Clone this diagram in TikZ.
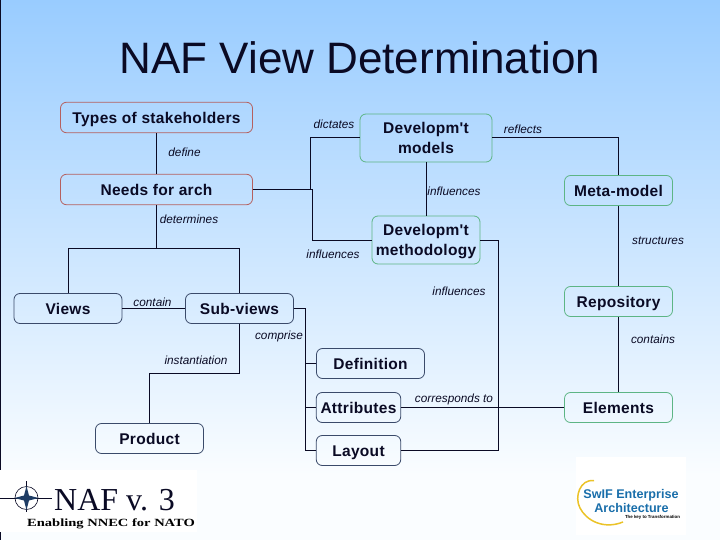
\documentclass[tikz,border=0pt]{standalone}
\usepackage{fontspec}
\setmainfont{Liberation Sans}
\newfontfamily\boxfont[LetterSpace=2]{Liberation Sans}
\newfontfamily\logofont{Liberation Serif}
\newfontfamily\logowide[FakeStretch=1.32]{Liberation Serif}
\usetikzlibrary{positioning}
\definecolor{inkdark}{HTML}{0A0A24}
\definecolor{redline}{HTML}{B5605F}
\definecolor{greenline}{HTML}{5DB585}
\definecolor{darkline}{HTML}{3A4A6A}
\definecolor{skytop}{HTML}{99CCFF}
\definecolor{skybot}{HTML}{FAFDFF}
\definecolor{nafblue}{HTML}{1E3C64}
\definecolor{swifblue}{HTML}{196EAA}
\definecolor{swifgold}{HTML}{EBC328}
\tikzset{
  boxbase/.style={draw,rounded corners=6pt,line width=0.8pt,inner sep=0pt,align=center,
    text=inkdark,font=\boxfont\fontsize{15.5}{20}\selectfont\bfseries},
  oneline/.style={text height=13pt,text depth=1.5pt},
  boxred/.style={boxbase,oneline,draw=redline},
  boxgreen/.style={boxbase,draw=greenline},
  boxdark/.style={boxbase,oneline,draw=darkline},
  wire/.style={draw=inkdark,line width=1pt},
  lbl/.style={inner sep=0pt,text=inkdark,font=\fontsize{11.8}{13}\selectfont\itshape}
}
\begin{document}
\begin{tikzpicture}[x=1pt,y=-1pt]
  % page and background
  \useasboundingbox (0,0) rectangle (720,540);
  \shade[top color=skytop,bottom color=skybot] (0,0) rectangle (720,475);
  \fill[skybot] (0,475) rectangle (720,540);
  \draw[inkdark,line width=1.2pt] (0.4,0) -- (0.4,540);
  % title
  \node[inner sep=0pt,anchor=base,text=inkdark,font=\fontsize{44}{48}\selectfont] (title) at (360,74) {NAF View Determination};
  % left column
  \node[boxred,minimum width=192pt,minimum height=30.5pt] (types) at (156.5,117.5) {Types of stakeholders};
  \node[boxred,minimum width=192pt,minimum height=30.5pt] (needs) at (156.5,189.5) {Needs for arch};
  \node[boxdark,minimum width=108pt,minimum height=30pt] (views) at (68,308.5) {Views};
  \node[boxdark,minimum width=108pt,minimum height=30pt] (subviews) at (239.5,308.5) {Sub-views};
  \node[boxdark,minimum width=108pt,minimum height=30pt] (product) at (149.5,438.5) {Product};
  % middle column
  \node[boxgreen,minimum width=132pt,minimum height=48pt] (models) at (426,138) {Developm'{}t\\models};
  \node[boxgreen,minimum width=108pt,minimum height=48pt] (method) at (426,240) {\rule{0pt}{15pt}Developm'{}t\\methodology};
  \node[boxdark,minimum width=108pt,minimum height=30pt] (definition) at (370.5,363.5) {Definition};
  \node[boxdark,minimum width=84.5pt,minimum height=30pt] (attributes) at (358.5,407.5) {Attributes};
  \node[boxdark,minimum width=84.5pt,minimum height=30pt] (layout) at (358.5,450.5) {Layout};
  % right column
  \node[boxgreen,oneline,minimum width=108pt,minimum height=30pt] (meta) at (618.5,190.5) {Meta-model};
  \node[boxgreen,oneline,minimum width=108pt,minimum height=30pt] (repo) at (618.5,301.5) {Repository};
  \node[boxgreen,oneline,minimum width=108pt,minimum height=30pt] (elements) at (618.5,407.5) {Elements};
  % junctions
  \coordinate (needsA) at (310.5,189.5);
  \coordinate (needsB) at (312.5,189.5);
  \coordinate (splitA) at (156.5,248.5);
  \coordinate (subA) at (239.5,373.5);
  \coordinate (rakeA) at (305.5,308.5);
  \coordinate (rakeB) at (305.5,450.5);
  \coordinate (methodA) at (498.5,240);
  \coordinate (methodB) at (498.5,450.5);
  % connectors
  \draw[wire] (types) -- (needs);
  \draw[wire] (needs.east) -- (needsB);
  \draw[wire] (needsA) |- (models.west);
  \draw[wire] (needsB) |- (method.west);
  \draw[wire] (models) -- (method);
  \draw[wire] (needs) -- (splitA);
  \draw[wire] (views.north) |- (splitA) -| (subviews.north);
  \draw[wire] (views) -- (subviews);
  \draw[wire] (subviews.south) |- (subA) -| (product.north);
  \draw[wire] (subviews.east) -- (rakeA) -- (rakeB) -- (layout.west);
  \draw[wire] (rakeA |- definition.west) -- (definition.west);
  \draw[wire] (rakeA |- attributes.west) -- (attributes.west);
  \draw[wire] (method.east) -- (methodA) -- (methodB) -- (layout.east);
  \draw[wire] (attributes) -- (elements);
  \draw[wire] (models.east) -| (meta.north);
  \draw[wire] (meta) -- (repo);
  \draw[wire] (repo) -- (elements);
  % labels
  \node[lbl] (lbldictates) at (334,124) {dictates};
  \node[lbl] (lbldefine) at (184.5,152) {define};
  \node[lbl] (lbldetermines) at (189,219.5) {determines};
  \node[lbl] (lblinfA) at (333,254) {influences};
  \node[lbl] (lblinfB) at (454,191) {influences};
  \node[lbl] (lblinfC) at (459,291) {influences};
  \node[lbl] (lblreflects) at (523,129) {reflects};
  \node[lbl] (lblstructures) at (658,241) {structures};
  \node[lbl] (lblcontain) at (152.5,302) {contain};
  \node[lbl] (lblcomprise) at (279,336.5) {comprise};
  \node[lbl] (lblcontains) at (653,339.5) {contains};
  \node[lbl] (lblinst) at (196,360) {instantiation};
  \node[lbl] (lblcorr) at (454,399) {corresponds to};
  % left logo
  \fill[white] (0,470) rectangle (197,532);
  \draw[inkdark,line width=0.5pt] (0,498) -- (52,498);
  \draw[inkdark,line width=0.5pt] (26.5,481) -- (26.5,512);
  \draw[inkdark,line width=0.6pt] (26.5,498) circle (11.5);
  \fill[nafblue] (26.5,486) -- (29,495.5) -- (38.5,498) -- (29,500.5) -- (26.5,510) -- (24,500.5) -- (14.5,498) -- (24,495.5) -- cycle;
  \node[inner sep=0pt,anchor=base west,text=inkdark,font=\logofont\fontsize{32}{36}\selectfont] (naflogo) at (54,510) {NAF v. 3};
  \node[inner sep=0pt,anchor=base west,text=black,font=\logowide\fontsize{11}{12}\selectfont\bfseries] (naftag) at (27,526.5) {Enabling NNEC for NATO};
  % right logo
  \fill[white] (576,457) rectangle (686,535);
  \draw[swifgold,line width=1.5pt] (594,480.5) .. controls (580,479) and (574,497) .. (580,508) .. controls (586,520) and (603,530) .. (623,522);
  \node[inner sep=0pt,text=swifblue,font=\fontsize{12.6}{13}\selectfont\bfseries] (swif) at (631,495) {SwIF Enterprise};
  \node[inner sep=0pt,text=swifblue,font=\fontsize{12.6}{13}\selectfont\bfseries] (arch) at (631.5,507.5) {Architecture};
  \node[inner sep=0pt,text=black,font=\fontsize{4.4}{6}\selectfont\bfseries] (swiftag) at (652.5,517.5) {The key to Transformation};
\end{tikzpicture}
\end{document}
